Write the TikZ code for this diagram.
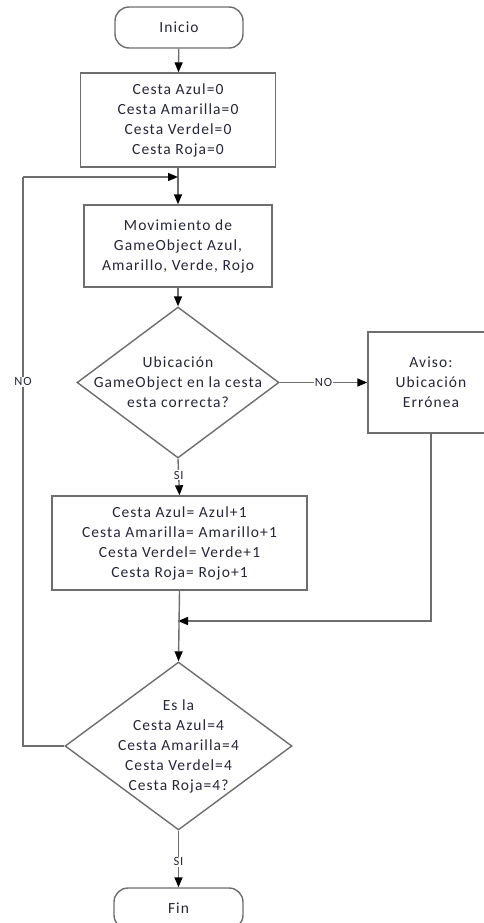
\documentclass[tikz,border=0pt]{standalone}
\usepackage{fontspec}
\setmainfont{Carlito}[LetterSpace=7]
\usetikzlibrary{shapes.geometric,arrows.meta}
\definecolor{linegray}{HTML}{6E6E6E}
\definecolor{txt}{HTML}{26263A}
\tikzset{
  every node/.style={font=\fontsize{15.5}{20}\selectfont, text=txt},
  box/.style={draw=linegray, line width=1.4pt, fill=white, align=center, inner sep=0pt},
  term/.style={box, rounded corners=14pt},
  decision/.style={draw=linegray, line width=1.4pt, fill=white, diamond, inner sep=0pt},
  flow/.style={draw=linegray, line width=1.4pt, -{Triangle[length=10pt,width=8pt,color=black]}},
  plain/.style={draw=linegray, line width=1.4pt},
  tag/.style={fill=white, inner sep=1pt, font=\fontsize{12.5}{13}\selectfont}
}
\begin{document}
\begin{tikzpicture}[x=1pt,y=-1pt]
\useasboundingbox (0,0) rectangle (483,923);

\node[term, minimum width=128pt, minimum height=41pt] (inicio) at (179,27.5) {Inicio};
\node[box, minimum width=195pt, minimum height=94pt] (init) at (178,120)
  {Cesta Azul=0\\Cesta Amarilla=0\\Cesta Verdel=0\\Cesta Roja=0};
\node[box, minimum width=188pt, minimum height=82pt] (mov) at (178,246)
  {Movimiento de\\GameObject Azul,\\Amarillo, Verde, Rojo};
\node[decision, minimum width=202pt, minimum height=151pt,
  label={[align=center]center:Ubicación\\GameObject en la cesta\\esta correcta?}] (d1) at (178,382.5) {};
\node[box, minimum width=126pt, minimum height=101pt] (aviso) at (431,382.5)
  {Aviso:\\Ubicación\\Errónea};
\node[box, minimum width=255pt, minimum height=94pt] (suma) at (179.5,543)
  {Cesta Azul= Azul+1\\Cesta Amarilla= Amarillo+1\\Cesta Verdel= Verde+1\\Cesta Roja= Rojo+1};
\node[decision, minimum width=227pt, minimum height=168pt,
  label={[align=center]center:Es la\\Cesta Azul=4\\Cesta Amarilla=4\\Cesta Verdel=4\\Cesta Roja=4?}] (d2) at (178.5,746) {};
\node[term, minimum width=129pt, minimum height=41pt] (fin) at (178.5,908.5) {Fin};

\coordinate (loopin) at (178,177);
\coordinate (loopleft) at (23,177);
\coordinate (merge) at (178,621);

\draw[flow] (inicio) -- (init);
\draw[plain] (init.south) -- (loopin);
\draw[flow] (loopin) -- (mov);
\draw[flow] (mov) -- (d1.north);
\draw[flow] (d1.east) -- node[tag] {NO} (aviso.west);
\draw[flow] (d1.south) -- node[tag, pos=0.45] {SI} (suma.north);
\draw[plain] (aviso.south) |- (merge);
\draw[flow] (aviso.south |- merge) -- (merge);
\draw[flow] (suma.south) -- (d2.north);
\draw[plain] (d2.west) -| node[tag, pos=0.82] {NO} (loopleft);
\draw[flow] (loopleft) -- (loopin);
\draw[flow] (d2.south) -- node[tag, pos=0.55] {SI} (fin.north);
\end{tikzpicture}
\end{document}
